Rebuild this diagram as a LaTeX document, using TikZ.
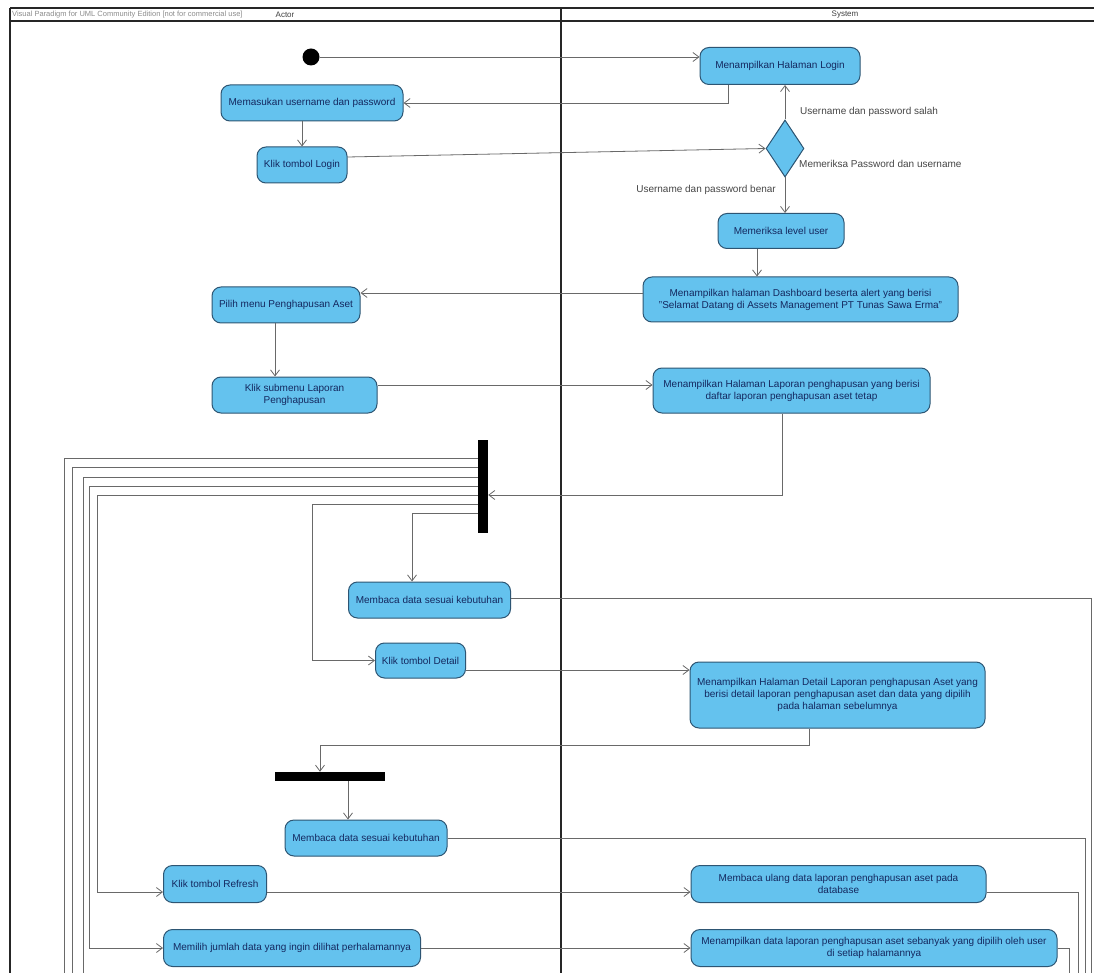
\documentclass[tikz,border=0pt]{standalone}
\usepackage{fontspec}
\setmainfont{Liberation Sans}
\usetikzlibrary{arrows.meta,shapes.geometric,calc}
\definecolor{actfill}{RGB}{100,194,238}
\definecolor{actdraw}{RGB}{45,85,115}
\definecolor{acttext}{RGB}{20,40,95}
\definecolor{conn}{RGB}{105,105,105}
\definecolor{lbl}{RGB}{70,70,70}
\begin{document}
\begin{tikzpicture}[x=1pt,y=-1pt,
  act/.style={draw=actdraw, line width=1pt, fill=actfill, rounded corners=9pt, text=acttext,
    font=\fontsize{10}{12}\selectfont, align=center, inner sep=2pt},
  barnode/.style={fill=black, draw=none, inner sep=0pt},
  decnode/.style={diamond, draw=actdraw, line width=1pt, fill=actfill, inner sep=0pt, minimum width=38pt, minimum height=57pt},
  initnode/.style={circle, fill=black, inner sep=0pt, minimum size=17pt},
  arr/.style={draw=conn, line width=0.8pt, -{Straight Barb[length=6pt,width=9pt]}},
  conline/.style={draw=conn, line width=0.8pt},
  lane/.style={draw=black!85, line width=1.3pt},
  guard/.style={text=lbl, font=\fontsize{10}{12}\selectfont, inner sep=0pt}
]
\useasboundingbox (0,0) rectangle (1094,973);
\fill[white] (0,0) rectangle (1094,973);
\clip (0,0) rectangle (1094,973);

% swimlanes
\draw[lane] (10,8) -- (1094,8);
\draw[lane] (10,21) -- (1094,21);
\draw[lane] (10,8) -- (10,990);
\draw[lane] (561,8) -- (561,990);
\node[text=black!45, font=\fontsize{7.5}{8}\selectfont, anchor=west, inner sep=0pt] (wm) at (12,14.5) {Visual Paradigm for UML Community Edition [not for commercial use]};
\node[font=\fontsize{8}{9}\selectfont, text=black!75, inner sep=0pt] (hact) at (285,14.5) {Actor};
\node[font=\fontsize{8}{9}\selectfont, text=black!75, inner sep=0pt] (hsys) at (845,14.5) {System};

% nodes
\node[initnode] (init) at (311,57) {};
\node[act, minimum width=160pt, minimum height=37pt] (login) at (780,66) {Menampilkan Halaman Login};
\node[act, minimum width=182pt, minimum height=36pt] (masuk) at (312,103) {Memasukan username dan password};
\node[act, minimum width=90pt, minimum height=36pt] (klogin) at (302,165) {Klik tombol Login};
\node[decnode] (dec) at (785,148.5) {};
\node[act, minimum width=126pt, minimum height=35pt] (level) at (781,231) {Memeriksa level user};
\node[act, minimum width=315pt, minimum height=45pt] (dash) at (800.5,299.5) {Menampilkan halaman Dashboard beserta alert yang berisi\\"Selamat Datang di Assets Management PT Tunas Sawa Erma"};
\node[act, minimum width=148pt, minimum height=36pt] (pilih) at (286,305) {Pilih menu Penghapusan Aset};
\node[act, minimum width=165pt, minimum height=36pt] (submenu) at (294.5,395) {Klik submenu Laporan\\Penghapusan};
\node[act, minimum width=277pt, minimum height=45pt] (lapor) at (791.5,390.5) {Menampilkan Halaman Laporan penghapusan yang berisi\\daftar laporan penghapusan aset tetap};
\node[barnode, minimum width=10pt, minimum height=93pt] (bar1) at (483,486.5) {};
\node[act, minimum width=162pt, minimum height=36pt] (baca1) at (429.5,600) {Membaca data sesuai kebutuhan};
\node[act, minimum width=90pt, minimum height=35pt] (kdetail) at (420.5,660.5) {Klik tombol Detail};
\node[act, minimum width=295pt, minimum height=66pt] (detail) at (837.5,695) {Menampilkan Halaman Detail Laporan penghapusan Aset yang\\berisi detail laporan penghapusan aset dan data yang dipilih\\pada halaman sebelumnya};
\node[barnode, minimum width=110pt, minimum height=9pt] (bar2) at (330,776.5) {};
\node[act, minimum width=162pt, minimum height=36pt] (baca2) at (366,838) {Membaca data sesuai kebutuhan};
\node[act, minimum width=103pt, minimum height=37pt] (refresh) at (215,884) {Klik tombol Refresh};
\node[act, minimum width=295pt, minimum height=37pt] (ulang) at (838.5,884) {Membaca ulang data laporan penghapusan aset pada\\database};
\node[act, minimum width=257pt, minimum height=37pt] (memilih) at (292,948) {Memilih jumlah data yang ingin dilihat perhalamannya};
\node[act, minimum width=366pt, minimum height=37pt] (tampil) at (874,948) {Menampilkan data laporan penghapusan aset sebanyak yang dipilih oleh user\\di setiap halamannya};

% guard labels
\node[guard, anchor=west] (gsalah) at (800,112) {Username dan password salah};
\node[guard, anchor=west] (gcek) at (799,164) {Memeriksa Password dan username};
\node[guard, anchor=east] (gbenar) at (776,190) {Username dan password benar};

% free ends
\coordinate (L1) at (64,990);
\coordinate (L2) at (72,990);
\coordinate (L3) at (83,990);
\coordinate (R1) at (1091,990);
\coordinate (R2) at (1085,990);
\coordinate (R3) at (1078,990);
\coordinate (R4) at (1069,990);

% connectors
\draw[arr] (init.east) -- (init.east -| login.west);
\draw[arr] ([xshift=-52pt]login.south) |- (masuk.east);
\draw[arr] (masuk.south -| klogin.north) -- (klogin.north);
\draw[arr] ([yshift=8pt]klogin.east) -- (dec.west);
\draw[arr] (dec.north) -- (dec.north |- login.south);
\draw[arr] (dec.south) -- (dec.south |- level.north);
\draw[arr] ([xshift=-24pt]level.south) -- ([xshift=-24pt]level.south |- dash.north);
\draw[arr] ([yshift=6.5pt]dash.west) -- ([yshift=6.5pt]dash.west -| pilih.east);
\draw[arr] ([xshift=-11pt]pilih.south) -- ([xshift=-11pt]pilih.south |- submenu.north);
\draw[arr] ([yshift=10pt]submenu.east) -- ([yshift=10pt]submenu.east -| lapor.west);
\draw[arr] ([xshift=-9pt]lapor.south) |- ([yshift=-8.5pt]bar1.east);

\draw[conline] ([yshift=28.5pt]bar1.west) -| (L1);
\draw[conline] ([yshift=19.5pt]bar1.west) -| (L2);
\draw[conline] ([yshift=9.5pt]bar1.west) -| (L3);
\draw[arr] ([yshift=0.5pt]bar1.west) -| ([xshift=-74pt]memilih.west) -- (memilih.west);
\draw[arr] ([yshift=-8.5pt]bar1.west) -| ([xshift=-65.5pt,yshift=-8pt]refresh.west) -- ([yshift=-8pt]refresh.west);
\draw[arr] ([yshift=-17.5pt]bar1.west) -| ([xshift=-62.5pt]kdetail.west) -- (kdetail.west);
\draw[arr] ([yshift=-26.5pt]bar1.west) -| ([xshift=-17.5pt]baca1.north);

\draw[conline] ([yshift=2pt]baca1.east) -| (R1);
\draw[arr] ([yshift=-9.5pt]kdetail.east) -- ([yshift=-9.5pt]kdetail.east -| detail.west);
\draw[arr] ([xshift=-28pt]detail.south) -- ++(0,17) -| ([xshift=-10pt]bar2.north);
\draw[arr] ([xshift=18pt]bar2.south) -- ([xshift=18pt]bar2.south |- baca2.north);
\draw[conline] (baca2.east) -| (R2);
\draw[arr] ([yshift=-8pt]refresh.east) -- ([yshift=-8pt]refresh.east -| ulang.west);
\draw[conline] ([yshift=-8pt]ulang.east) -| (R3);
\draw[arr] (memilih.east) -- (tampil.west);
\draw[conline] (tampil.east) -| (R4);
\end{tikzpicture}
\end{document}
